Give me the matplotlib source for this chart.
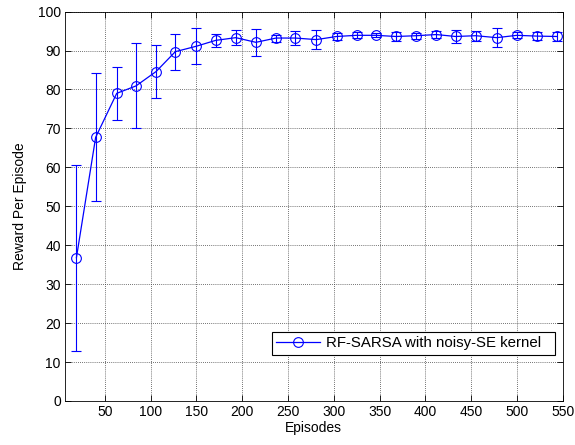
import matplotlib
matplotlib.use("Agg")
import matplotlib.pyplot as plt
from matplotlib.lines import Line2D

plt.rcParams['font.family'] = ['Liberation Sans', 'DejaVu Sans']

episodes = [19, 40, 63, 84, 106, 127, 150, 171, 193, 215, 237, 258, 281,
            303, 325, 346, 368, 390, 412, 433, 455, 478, 500, 522, 544]
reward = [36.8, 67.7, 79.0, 80.9, 84.6, 89.7, 91.1, 92.6, 93.3, 92.1, 93.2, 93.2, 92.8,
          93.6, 93.9, 93.9, 93.6, 93.8, 94.1, 93.6, 93.8, 93.3, 93.9, 93.7, 93.6]
err = [23.9, 16.4, 6.8, 10.9, 6.9, 4.6, 4.6, 1.7, 2.0, 3.5, 0.9, 1.9, 2.5,
       0.8, 0.8, 0.5, 1.2, 0.8, 1.0, 1.7, 1.3, 2.4, 0.8, 1.1, 1.1]

xticks = [50, 100, 150, 200, 250, 300, 350, 400, 450, 500, 550]
yticks = [0, 10, 20, 30, 40, 50, 60, 70, 80, 90, 100]
series_label = 'RF-SARSA with noisy-SE kernel'

FS = 10
BLUE = '#0000ff'

fig = plt.figure(figsize=(5.75, 4.45), dpi=100)
ax = fig.add_axes([0.113, 0.099, 0.8656, 0.875])

ax.errorbar(episodes, reward, yerr=err, color=BLUE, ecolor=BLUE,
            marker='o', markersize=7, markerfacecolor='none', markeredgewidth=0.8,
            linewidth=0.9, elinewidth=0.8, capsize=3.5, capthick=0.8)

ax.set_xlim(6.5, 550)
ax.set_ylim(0, 100)
ax.set_xticks(xticks)
ax.set_yticks(yticks)
ax.tick_params(direction='in', labelsize=FS, length=4, width=0.6,
               top=True, right=True, pad=3)
ax.grid(True, color='#444444', linestyle=(0, (1, 1.5)), linewidth=0.6)
for s in ax.spines.values():
    s.set_linewidth(0.6)

ax.set_xlabel('Episodes', fontsize=FS, labelpad=1)
ax.set_ylabel('Reward Per Episode', fontsize=FS, labelpad=7.5)

handle = Line2D([], [], color=BLUE, marker='o', markersize=7,
                markerfacecolor='none', markeredgewidth=0.8, linewidth=0.9)
leg = ax.legend([handle], [series_label], loc='lower left',
                bbox_to_anchor=(271.5 / 575, 1 - 355 / 445, 283.5 / 575, 24 / 445),
                bbox_transform=fig.transFigure, mode='expand', fancybox=False,
                edgecolor='black', framealpha=1, fontsize=10.8, borderaxespad=0,
                handlelength=2.95, handletextpad=0.4, borderpad=0.3)
leg.get_frame().set_linewidth(0.8)

fig.savefig('out.png', dpi=100)
